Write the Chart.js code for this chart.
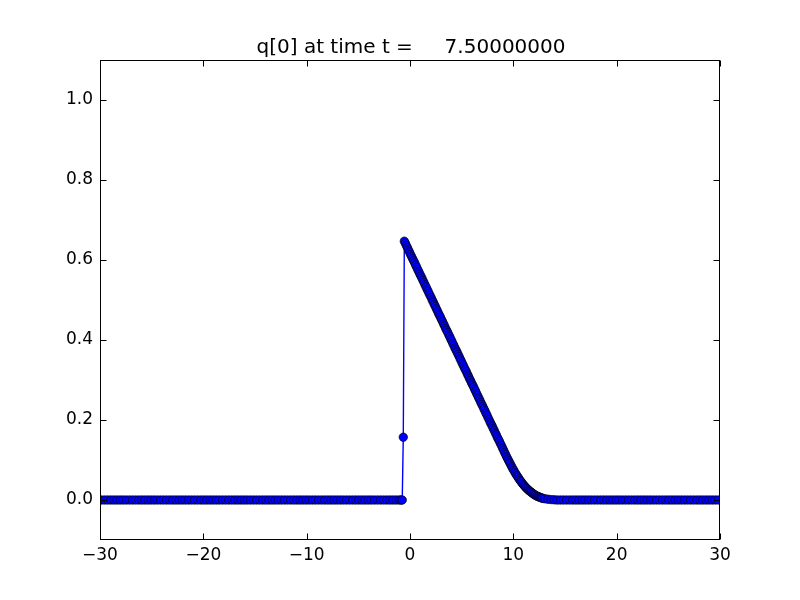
<!DOCTYPE html>
<html>
<head>
<meta charset="utf-8">
<script src="https://cdn.jsdelivr.net/npm/chart.js@4/dist/chart.umd.min.js"></script>
<style>
html,body{margin:0;padding:0;background:#fff;}
#wrap{width:800px;height:600px;position:relative;}
</style>
</head>
<body>
<div id="wrap"><canvas id="c" width="800" height="600"></canvas></div>
<script>
const titleText = "q[0] at time t =     7.50000000";

// coarse cells left of the refined patch (all zero)
const xLeft = [-29.85,-29.55,-29.25,-28.95,-28.65,-28.35,-28.05,-27.75,-27.45,-27.15,
-26.85,-26.55,-26.25,-25.95,-25.65,-25.35,-25.05,-24.75,-24.45,-24.15,
-23.85,-23.55,-23.25,-22.95,-22.65,-22.35,-22.05,-21.75,-21.45,-21.15,
-20.85,-20.55,-20.25,-19.95,-19.65,-19.35,-19.05,-18.75,-18.45,-18.15,
-17.85,-17.55,-17.25,-16.95,-16.65,-16.35,-16.05,-15.75,-15.45,-15.15,
-14.85,-14.55,-14.25,-13.95,-13.65,-13.35,-13.05,-12.75,-12.45,-12.15,
-11.85,-11.55,-11.25,-10.95,-10.65,-10.35,-10.05,-9.75,-9.45,-9.15,
-8.85,-8.55,-8.25,-7.95,-7.65,-7.35,-7.05,-6.75,-6.45,-6.15,
-5.85,-5.55,-5.25,-4.95,-4.65,-4.35,-4.05,-3.75,-3.45,-3.15,
-2.85,-2.55,-2.25,-1.95,-1.65,-1.35,-1.05];
const yLeft = [0,0,0,0,0,0,0,0,0,0, 0,0,0,0,0,0,0,0,0,0, 0,0,0,0,0,0,0,0,0,0,
0,0,0,0,0,0,0,0,0,0, 0,0,0,0,0,0,0,0,0,0, 0,0,0,0,0,0,0,0,0,0,
0,0,0,0,0,0,0,0,0,0, 0,0,0,0,0,0,0,0,0,0, 0,0,0,0,0,0,0,0,0,0, 0,0,0,0,0,0,0];

// refined cells
const xFine = [-0.85,-0.75,-0.65,-0.55,-0.45,-0.35,-0.25,-0.15,-0.05,
0.05,0.15,0.25,0.35,0.45,0.55,0.65,0.75,0.85,0.95,
1.05,1.15,1.25,1.35,1.45,1.55,1.65,1.75,1.85,1.95,
2.05,2.15,2.25,2.35,2.45,2.55,2.65,2.75,2.85,2.95,
3.05,3.15,3.25,3.35,3.45,3.55,3.65,3.75,3.85,3.95,
4.05,4.15,4.25,4.35,4.45,4.55,4.65,4.75,4.85,4.95,
5.05,5.15,5.25,5.35,5.45,5.55,5.65,5.75,5.85,5.95,
6.05,6.15,6.25,6.35,6.45,6.55,6.65,6.75,6.85,6.95,
7.05,7.15,7.25,7.35,7.45,7.55,7.65,7.75,7.85,7.95,
8.05,8.15,8.25,8.35,8.45,8.55,8.65,8.75,8.85,8.95,
9.05,9.15,9.25,9.35,9.45,9.55,9.65,9.75,9.85,9.95,
10.05,10.15,10.25,10.35,10.45,10.55,10.65,10.75,10.85,10.95,
11.05,11.15,11.25,11.35,11.45,11.55,11.65,11.75,11.85,11.95,
12.05,12.15,12.25,12.35,12.45,12.55,12.65,12.75,12.85];
const yFine = [0,0,0.157,0.647,0.642,0.636,0.631,0.625,0.620,
0.614,0.609,0.603,0.598,0.593,0.587,0.582,0.576,0.571,0.565,
0.560,0.555,0.549,0.544,0.538,0.533,0.527,0.522,0.516,0.511,
0.506,0.500,0.495,0.489,0.484,0.478,0.473,0.467,0.462,0.457,
0.451,0.446,0.440,0.435,0.429,0.424,0.419,0.413,0.408,0.402,
0.397,0.391,0.386,0.380,0.375,0.370,0.364,0.359,0.353,0.348,
0.342,0.337,0.331,0.326,0.321,0.315,0.310,0.304,0.299,0.293,
0.288,0.283,0.277,0.272,0.266,0.261,0.255,0.250,0.244,0.239,
0.234,0.228,0.223,0.217,0.212,0.206,0.201,0.195,0.190,0.185,
0.179,0.174,0.168,0.163,0.157,0.152,0.147,0.141,0.136,0.130,
0.125,0.119,0.114,0.108,0.103,0.098,0.093,0.088,0.083,0.078,
0.074,0.069,0.065,0.061,0.057,0.053,0.049,0.046,0.042,0.039,
0.036,0.033,0.030,0.028,0.025,0.023,0.021,0.019,0.017,0.015,
0.013,0.012,0.010,0.009,0.008,0.007,0.006,0.005,0.004];

// coarse cells right of the refined patch
const xRight = [13.05,13.35,13.65,13.95,14.25,14.55,14.85,15.15,15.45,15.75,
16.05,16.35,16.65,16.95,17.25,17.55,17.85,18.15,18.45,18.75,
19.05,19.35,19.65,19.95,20.25,20.55,20.85,21.15,21.45,21.75,
22.05,22.35,22.65,22.95,23.25,23.55,23.85,24.15,24.45,24.75,
25.05,25.35,25.65,25.95,26.25,26.55,26.85,27.15,27.45,27.75,
28.05,28.35,28.65,28.95,29.25,29.55,29.85];
const yRight = [0.003,0.002,0.001,0.0005,0,0,0,0,0,0, 0,0,0,0,0,0,0,0,0,0,
0,0,0,0,0,0,0,0,0,0, 0,0,0,0,0,0,0,0,0,0, 0,0,0,0,0,0,0,0,0,0, 0,0,0,0,0,0,0];

const xTicks = [-30,-20,-10,0,10,20,30];
const yTicks = [0.0,0.2,0.4,0.6,0.8,1.0];

const xs = xLeft.concat(xFine, xRight);
const ys = yLeft.concat(yFine, yRight);
const pts = xs.map((x,i)=>({x:x, y:ys[i]}));

const FONT = "'DejaVu Sans', sans-serif";

const framePlugin = {
  id: 'frame',
  afterDatasetsDraw(chart) {
    const ctx = chart.ctx, a = chart.chartArea;
    const xs_ = chart.scales.x, ys_ = chart.scales.y;
    ctx.save();
    ctx.strokeStyle = '#000';
    ctx.lineWidth = 1;
    const L = Math.round(a.left)+0.5, R = Math.round(a.right)-0.5;
    const T = Math.round(a.top)+0.5, B = Math.round(a.bottom)-0.5;
    ctx.strokeRect(L, T, R-L, B-T);
    const tl = 6;
    ctx.beginPath();
    xs_.ticks.forEach(t => {
      const p = Math.round(xs_.getPixelForValue(t.value))+0.5;
      ctx.moveTo(p, B); ctx.lineTo(p, B-tl);
      ctx.moveTo(p, T); ctx.lineTo(p, T+tl);
    });
    ys_.ticks.forEach(t => {
      const p = Math.round(ys_.getPixelForValue(t.value))+0.5;
      ctx.moveTo(L, p); ctx.lineTo(L+tl, p);
      ctx.moveTo(R, p); ctx.lineTo(R-tl, p);
    });
    ctx.stroke();
    // title
    ctx.fillStyle = '#000';
    ctx.font = "20px " + FONT;
    ctx.textAlign = 'center';
    ctx.textBaseline = 'alphabetic';
    ctx.fillText(titleText, (a.left+a.right)/2 + 1, 53);
    ctx.restore();
  }
};

new Chart(document.getElementById('c'), {
  type: 'line',
  data: {
    datasets: [{
      data: pts,
      borderColor: '#0000ff',
      borderWidth: 1.4,
      pointRadius: 4.2,
      pointBackgroundColor: '#0000ff',
      pointBorderColor: '#000000',
      pointBorderWidth: 0.7,
      tension: 0,
      clip: 0
    }]
  },
  options: {
    responsive: false,
    animation: false,
    events: [],
    layout: { padding: { left: 0, right: 80, top: 60, bottom: 0 } },
    plugins: { legend: { display: false }, title: { display: false }, tooltip: { enabled: false } },
    scales: {
      x: {
        type: 'linear', min: -30, max: 30,
        afterBuildTicks(s) { s.ticks = xTicks.map(v => ({value: v})); },
        afterFit(s) { s.height = 60; },
        grid: { display: false, drawTicks: false },
        border: { display: false },
        ticks: {
          padding: 5, color: '#000',
          font: { family: FONT, size: 17 },
          maxRotation: 0,
          callback: v => String(v).replace('-', '\u2212')
        }
      },
      y: {
        type: 'linear', min: -0.1, max: 1.1,
        afterBuildTicks(s) { s.ticks = yTicks.map(v => ({value: v})); },
        afterFit(s) { s.width = 100; },
        grid: { display: false, drawTicks: false },
        border: { display: false },
        ticks: {
          padding: 7, color: '#000',
          font: { family: FONT, size: 17 },
          callback: v => Number(v).toFixed(1)
        }
      }
    }
  },
  plugins: [framePlugin]
});
</script>
</body>
</html>
